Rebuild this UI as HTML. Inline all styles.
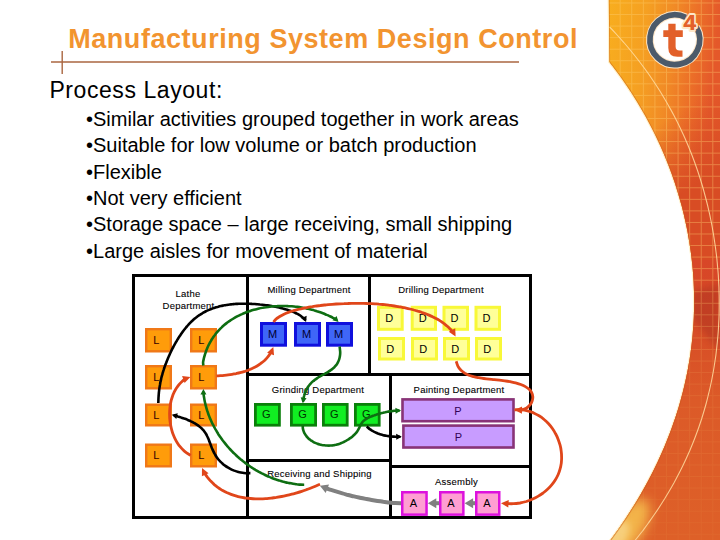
<!DOCTYPE html>
<html><head><meta charset="utf-8"><style>
html,body{margin:0;padding:0;background:#fff}
body{width:720px;height:540px;overflow:hidden;position:relative;font-family:"Liberation Sans",sans-serif}
svg{position:absolute;left:0;top:0}
</style></head><body>
<svg width="720" height="540" viewBox="0 0 720 540">
<defs>
<linearGradient id="og" x1="608" y1="0" x2="720" y2="12" gradientUnits="userSpaceOnUse">
<stop offset="0" stop-color="#f8ae1e"/><stop offset="0.35" stop-color="#f5a022"/><stop offset="0.6" stop-color="#f18a26"/><stop offset="0.8" stop-color="#ec7028"/><stop offset="1" stop-color="#e4582a"/>
</linearGradient>
<linearGradient id="og2" x1="650" y1="60" x2="720" y2="170" gradientUnits="userSpaceOnUse">
<stop offset="0" stop-color="#d84c24" stop-opacity="0"/><stop offset="0.45" stop-color="#d84c24" stop-opacity="0"/><stop offset="1" stop-color="#d84c24" stop-opacity="1"/>
</linearGradient>
<linearGradient id="og3" x1="0" y1="260" x2="0" y2="540" gradientUnits="userSpaceOnUse">
<stop offset="0" stop-color="#d84628"/><stop offset="0.2" stop-color="#d64a26"/><stop offset="0.5" stop-color="#dc5a28"/><stop offset="1" stop-color="#de6028"/>
</linearGradient>
<radialGradient id="yl" cx="612" cy="548" r="52" gradientUnits="userSpaceOnUse">
<stop offset="0" stop-color="#f8d070"/><stop offset="0.45" stop-color="#f4b848" stop-opacity="0.9"/><stop offset="1" stop-color="#eea038" stop-opacity="0"/>
</radialGradient>
<pattern id="grid" x="608.1" y="2.5" width="11.58" height="11.55" patternUnits="userSpaceOnUse">
<path d="M0,0.5 H11.58 M0.5,0 V11.55" stroke="#ffd070" stroke-opacity="0.4" stroke-width="1" fill="none"/>
</pattern>
<linearGradient id="gfade" x1="0" y1="0" x2="0" y2="540" gradientUnits="userSpaceOnUse">
<stop offset="0" stop-color="#fff"/><stop offset="0.5" stop-color="#fff"/><stop offset="0.7" stop-color="#fff" stop-opacity="0.3"/><stop offset="1" stop-color="#fff" stop-opacity="0.15"/>
</linearGradient>
<mask id="gmask"><rect x="600" y="0" width="120" height="540" fill="url(#gfade)"/></mask>
<filter id="bl3" x="-50%" y="-50%" width="200%" height="200%"><feGaussianBlur stdDeviation="3"/></filter>
<filter id="bl6" x="-50%" y="-50%" width="200%" height="200%"><feGaussianBlur stdDeviation="6"/></filter>
<clipPath id="shp"><path d="M608.8,-5 L608.8,-2 L609.3,62 C610.3,63.3 613.4,67.3 615.4,70.0 C617.4,72.7 619.4,75.3 621.3,78.0 C623.1,80.7 625.0,83.3 626.8,86.0 C628.6,88.7 630.4,91.3 632.1,94.0 C633.8,96.7 635.4,99.3 637.1,102.0 C638.7,104.7 640.3,107.3 641.8,110.0 C643.4,112.7 644.9,115.3 646.4,118.0 C647.8,120.7 649.2,123.3 650.6,126.0 C652.0,128.7 653.4,131.3 654.7,134.0 C656.0,136.7 657.3,139.3 658.5,142.0 C659.8,144.7 661.0,147.3 662.1,150.0 C663.3,152.7 664.4,155.3 665.5,158.0 C666.6,160.7 667.7,163.3 668.7,166.0 C669.7,168.7 670.7,171.3 671.7,174.0 C672.6,176.7 673.6,179.3 674.5,182.0 C675.4,184.7 676.2,187.3 677.0,190.0 C677.9,192.7 678.7,195.3 679.4,198.0 C680.2,200.7 680.9,203.3 681.7,206.0 C682.4,208.7 683.0,211.3 683.7,214.0 C684.3,216.7 684.9,219.3 685.5,222.0 C686.1,224.7 686.6,227.3 687.2,230.0 C687.7,232.7 688.2,235.3 688.6,238.0 C689.1,240.7 689.5,243.3 689.9,246.0 C690.3,248.7 690.7,251.3 691.1,254.0 C691.4,256.7 691.7,259.3 692.0,262.0 C692.3,264.7 692.6,267.3 692.8,270.0 C693.0,272.7 693.2,275.3 693.4,278.0 C693.6,280.7 693.7,283.3 693.8,286.0 C693.9,288.7 694.0,291.3 694.1,294.0 C694.1,296.7 694.1,299.3 694.1,302.0 C694.1,304.7 694.1,307.3 694.0,310.0 C694.0,312.7 693.9,315.3 693.8,318.0 C693.7,320.7 693.5,323.3 693.3,326.0 C693.1,328.7 692.9,331.3 692.7,334.0 C692.5,336.7 692.2,339.3 691.9,342.0 C691.6,344.7 691.3,347.3 690.9,350.0 C690.6,352.7 690.2,355.3 689.8,358.0 C689.4,360.7 688.9,363.3 688.4,366.0 C688.0,368.7 687.5,371.3 686.9,374.0 C686.4,376.7 685.8,379.3 685.2,382.0 C684.6,384.7 684.0,387.3 683.3,390.0 C682.7,392.7 682.0,395.3 681.2,398.0 C680.5,400.7 679.8,403.3 679.0,406.0 C678.2,408.7 677.4,411.3 676.5,414.0 C675.7,416.7 674.8,419.3 673.8,422.0 C672.9,424.7 672.0,427.3 671.0,430.0 C670.0,432.7 669.0,435.3 667.9,438.0 C666.9,440.7 665.8,443.3 664.7,446.0 C663.6,448.7 662.4,451.3 661.2,454.0 C660.0,456.7 658.8,459.3 657.6,462.0 C656.3,464.7 655.0,467.3 653.7,470.0 C652.4,472.7 651.0,475.3 649.6,478.0 C648.2,480.7 646.8,483.3 645.3,486.0 C643.8,488.7 642.3,491.3 640.8,494.0 C639.3,496.7 637.7,499.3 636.1,502.0 C634.5,504.7 632.8,507.3 631.1,510.0 C629.4,512.7 627.7,515.3 626.0,518.0 C624.2,520.7 622.4,523.3 620.6,526.0 C618.7,528.7 616.9,531.3 614.9,534.0 C613.0,536.7 610.4,540.2 609.1,542.0 C607.7,543.8 607.2,544.5 606.8,545.0 L725,545 L725,-5 Z"/></clipPath>
</defs>
<path d="M608.8,-5 L608.8,-2 L609.3,62 C610.3,63.3 613.4,67.3 615.4,70.0 C617.4,72.7 619.4,75.3 621.3,78.0 C623.1,80.7 625.0,83.3 626.8,86.0 C628.6,88.7 630.4,91.3 632.1,94.0 C633.8,96.7 635.4,99.3 637.1,102.0 C638.7,104.7 640.3,107.3 641.8,110.0 C643.4,112.7 644.9,115.3 646.4,118.0 C647.8,120.7 649.2,123.3 650.6,126.0 C652.0,128.7 653.4,131.3 654.7,134.0 C656.0,136.7 657.3,139.3 658.5,142.0 C659.8,144.7 661.0,147.3 662.1,150.0 C663.3,152.7 664.4,155.3 665.5,158.0 C666.6,160.7 667.7,163.3 668.7,166.0 C669.7,168.7 670.7,171.3 671.7,174.0 C672.6,176.7 673.6,179.3 674.5,182.0 C675.4,184.7 676.2,187.3 677.0,190.0 C677.9,192.7 678.7,195.3 679.4,198.0 C680.2,200.7 680.9,203.3 681.7,206.0 C682.4,208.7 683.0,211.3 683.7,214.0 C684.3,216.7 684.9,219.3 685.5,222.0 C686.1,224.7 686.6,227.3 687.2,230.0 C687.7,232.7 688.2,235.3 688.6,238.0 C689.1,240.7 689.5,243.3 689.9,246.0 C690.3,248.7 690.7,251.3 691.1,254.0 C691.4,256.7 691.7,259.3 692.0,262.0 C692.3,264.7 692.6,267.3 692.8,270.0 C693.0,272.7 693.2,275.3 693.4,278.0 C693.6,280.7 693.7,283.3 693.8,286.0 C693.9,288.7 694.0,291.3 694.1,294.0 C694.1,296.7 694.1,299.3 694.1,302.0 C694.1,304.7 694.1,307.3 694.0,310.0 C694.0,312.7 693.9,315.3 693.8,318.0 C693.7,320.7 693.5,323.3 693.3,326.0 C693.1,328.7 692.9,331.3 692.7,334.0 C692.5,336.7 692.2,339.3 691.9,342.0 C691.6,344.7 691.3,347.3 690.9,350.0 C690.6,352.7 690.2,355.3 689.8,358.0 C689.4,360.7 688.9,363.3 688.4,366.0 C688.0,368.7 687.5,371.3 686.9,374.0 C686.4,376.7 685.8,379.3 685.2,382.0 C684.6,384.7 684.0,387.3 683.3,390.0 C682.7,392.7 682.0,395.3 681.2,398.0 C680.5,400.7 679.8,403.3 679.0,406.0 C678.2,408.7 677.4,411.3 676.5,414.0 C675.7,416.7 674.8,419.3 673.8,422.0 C672.9,424.7 672.0,427.3 671.0,430.0 C670.0,432.7 669.0,435.3 667.9,438.0 C666.9,440.7 665.8,443.3 664.7,446.0 C663.6,448.7 662.4,451.3 661.2,454.0 C660.0,456.7 658.8,459.3 657.6,462.0 C656.3,464.7 655.0,467.3 653.7,470.0 C652.4,472.7 651.0,475.3 649.6,478.0 C648.2,480.7 646.8,483.3 645.3,486.0 C643.8,488.7 642.3,491.3 640.8,494.0 C639.3,496.7 637.7,499.3 636.1,502.0 C634.5,504.7 632.8,507.3 631.1,510.0 C629.4,512.7 627.7,515.3 626.0,518.0 C624.2,520.7 622.4,523.3 620.6,526.0 C618.7,528.7 616.9,531.3 614.9,534.0 C613.0,536.7 610.4,540.2 609.1,542.0 C607.7,543.8 607.2,544.5 606.8,545.0 L725,545 L725,-5 Z" fill="none" stroke="#fff2cc" stroke-width="2.4"/>
<g clip-path="url(#shp)">
<rect x="600" y="0" width="120" height="540" fill="url(#og)"/>
<rect x="600" y="0" width="120" height="260" fill="url(#og2)"/>
<rect x="600" y="260" width="120" height="280" fill="url(#og3)"/>
<ellipse cx="626" cy="530" rx="16" ry="36" transform="rotate(33 626 530)" fill="#f3b448" filter="url(#bl6)"/>
<ellipse cx="617" cy="537" rx="9" ry="18" transform="rotate(33 617 537)" fill="#f7cf7c" filter="url(#bl3)"/>
<path d="M692,291 L720,284 L720,352 L692,318 Z" fill="#a83024" opacity="0.45" filter="url(#bl3)"/>
<rect x="600" y="0" width="120" height="540" fill="url(#grid)" mask="url(#gmask)"/>
<path d="M608.8,-5 L608.8,-2 L609.3,62 C610.3,63.3 613.4,67.3 615.4,70.0 C617.4,72.7 619.4,75.3 621.3,78.0 C623.1,80.7 625.0,83.3 626.8,86.0 C628.6,88.7 630.4,91.3 632.1,94.0 C633.8,96.7 635.4,99.3 637.1,102.0 C638.7,104.7 640.3,107.3 641.8,110.0 C643.4,112.7 644.9,115.3 646.4,118.0 C647.8,120.7 649.2,123.3 650.6,126.0 C652.0,128.7 653.4,131.3 654.7,134.0 C656.0,136.7 657.3,139.3 658.5,142.0 C659.8,144.7 661.0,147.3 662.1,150.0 C663.3,152.7 664.4,155.3 665.5,158.0 C666.6,160.7 667.7,163.3 668.7,166.0 C669.7,168.7 670.7,171.3 671.7,174.0 C672.6,176.7 673.6,179.3 674.5,182.0 C675.4,184.7 676.2,187.3 677.0,190.0 C677.9,192.7 678.7,195.3 679.4,198.0 C680.2,200.7 680.9,203.3 681.7,206.0 C682.4,208.7 683.0,211.3 683.7,214.0 C684.3,216.7 684.9,219.3 685.5,222.0 C686.1,224.7 686.6,227.3 687.2,230.0 C687.7,232.7 688.2,235.3 688.6,238.0 C689.1,240.7 689.5,243.3 689.9,246.0 C690.3,248.7 690.7,251.3 691.1,254.0 C691.4,256.7 691.7,259.3 692.0,262.0 C692.3,264.7 692.6,267.3 692.8,270.0 C693.0,272.7 693.2,275.3 693.4,278.0 C693.6,280.7 693.7,283.3 693.8,286.0 C693.9,288.7 694.0,291.3 694.1,294.0 C694.1,296.7 694.1,299.3 694.1,302.0 C694.1,304.7 694.1,307.3 694.0,310.0 C694.0,312.7 693.9,315.3 693.8,318.0 C693.7,320.7 693.5,323.3 693.3,326.0 C693.1,328.7 692.9,331.3 692.7,334.0 C692.5,336.7 692.2,339.3 691.9,342.0 C691.6,344.7 691.3,347.3 690.9,350.0 C690.6,352.7 690.2,355.3 689.8,358.0 C689.4,360.7 688.9,363.3 688.4,366.0 C688.0,368.7 687.5,371.3 686.9,374.0 C686.4,376.7 685.8,379.3 685.2,382.0 C684.6,384.7 684.0,387.3 683.3,390.0 C682.7,392.7 682.0,395.3 681.2,398.0 C680.5,400.7 679.8,403.3 679.0,406.0 C678.2,408.7 677.4,411.3 676.5,414.0 C675.7,416.7 674.8,419.3 673.8,422.0 C672.9,424.7 672.0,427.3 671.0,430.0 C670.0,432.7 669.0,435.3 667.9,438.0 C666.9,440.7 665.8,443.3 664.7,446.0 C663.6,448.7 662.4,451.3 661.2,454.0 C660.0,456.7 658.8,459.3 657.6,462.0 C656.3,464.7 655.0,467.3 653.7,470.0 C652.4,472.7 651.0,475.3 649.6,478.0 C648.2,480.7 646.8,483.3 645.3,486.0 C643.8,488.7 642.3,491.3 640.8,494.0 C639.3,496.7 637.7,499.3 636.1,502.0 C634.5,504.7 632.8,507.3 631.1,510.0 C629.4,512.7 627.7,515.3 626.0,518.0 C624.2,520.7 622.4,523.3 620.6,526.0 C618.7,528.7 616.9,531.3 614.9,534.0 C613.0,536.7 610.4,540.2 609.1,542.0 C607.7,543.8 607.2,544.5 606.8,545.0 L725,545 L725,-5 Z" fill="none" stroke="#c85a18" stroke-opacity="0.5" stroke-width="1.6"/>
<path d="M609.6,27.0 C610.9,28.3 614.7,32.3 617.1,35.0 C619.6,37.7 621.9,40.3 624.3,43.0 C626.6,45.7 628.8,48.3 631.0,51.0 C633.2,53.7 635.3,56.3 637.4,59.0 C639.5,61.7 641.5,64.3 643.5,67.0 C645.5,69.7 647.4,72.3 649.3,75.0 C651.1,77.7 652.9,80.3 654.7,83.0 C656.5,85.7 658.2,88.3 659.9,91.0 C661.5,93.7 663.1,96.3 664.7,99.0 C666.3,101.7 667.8,104.3 669.3,107.0 C670.8,109.7 672.3,112.3 673.7,115.0 C675.1,117.7 676.4,120.3 677.8,123.0 C679.1,125.7 680.4,128.3 681.6,131.0 C682.9,133.7 684.1,136.3 685.3,139.0 C686.4,141.7 687.6,144.3 688.7,147.0 C689.8,149.7 690.8,152.3 691.9,155.0 C692.9,157.7 693.9,160.3 694.9,163.0 C695.8,165.7 696.8,168.3 697.7,171.0 C698.6,173.7 699.4,176.3 700.3,179.0 C701.1,181.7 701.9,184.3 702.7,187.0 C703.5,189.7 704.2,192.3 704.9,195.0 C705.6,197.7 706.3,200.3 707.0,203.0 C707.7,205.7 708.3,208.3 708.9,211.0 C709.5,213.7 710.1,216.3 710.6,219.0 C711.2,221.7 711.7,224.3 712.2,227.0 C712.7,229.7 713.1,232.3 713.6,235.0 C714.0,237.7 714.4,240.3 714.8,243.0 C715.2,245.7 715.6,248.3 715.9,251.0 C716.3,253.7 716.6,256.3 716.9,259.0 C717.1,261.7 717.4,264.3 717.6,267.0 C717.9,269.7 718.1,272.3 718.3,275.0 C718.4,277.7 718.6,280.3 718.7,283.0 C718.9,285.7 719.0,288.3 719.0,291.0 C719.1,293.7 719.2,296.3 719.2,299.0 C719.2,301.7 719.2,304.3 719.2,307.0 C719.2,309.7 719.1,312.3 719.1,315.0 C719.0,317.7 718.9,320.3 718.7,323.0 C718.6,325.7 718.5,328.3 718.3,331.0 C718.1,333.7 717.9,336.3 717.6,339.0 C717.4,341.7 717.1,344.3 716.8,347.0 C716.5,349.7 716.2,352.3 715.9,355.0 C715.5,357.7 715.1,360.3 714.7,363.0 C714.3,365.7 713.9,368.3 713.4,371.0 C712.9,373.7 712.4,376.3 711.9,379.0 C711.4,381.7 710.8,384.3 710.2,387.0 C709.6,389.7 709.0,392.3 708.3,395.0 C707.7,397.7 707.0,400.3 706.3,403.0 C705.6,405.7 704.8,408.3 704.0,411.0 C703.2,413.7 702.4,416.3 701.6,419.0 C700.7,421.7 699.8,424.3 698.9,427.0 C698.0,429.7 697.0,432.3 696.0,435.0 C695.0,437.7 694.0,440.3 692.9,443.0 C691.8,445.7 690.7,448.3 689.6,451.0 C688.4,453.7 687.2,456.3 686.0,459.0 C684.8,461.7 683.5,464.3 682.2,467.0 C680.9,469.7 679.5,472.3 678.1,475.0 C676.8,477.7 675.3,480.3 673.9,483.0 C672.4,485.7 670.9,488.3 669.3,491.0 C667.7,493.7 666.1,496.3 664.5,499.0 C662.8,501.7 661.1,504.3 659.4,507.0 C657.7,509.7 655.9,512.3 654.0,515.0 C652.2,517.7 650.3,520.3 648.4,523.0 C646.5,525.7 644.5,528.3 642.5,531.0 C640.4,533.7 638.1,536.7 636.2,539.0 C634.4,541.3 632.2,544.0 631.4,545.0" fill="none" stroke="#ffdca0" stroke-width="1.1" stroke-opacity="0.85"/>
</g>
<circle cx="674.8" cy="39.7" r="23" fill="#fff"/>
<path d="M696.36,27.25 A24.9,24.9 0 1 1 685.72,17.32" fill="none" stroke="#fde6c8" stroke-width="7.7"/>
<path d="M696.36,27.25 A24.9,24.9 0 1 1 685.72,17.32" fill="none" stroke="#4c5a6a" stroke-width="5.7"/>
<text x="683.6" y="29.6" font-family="Liberation Sans" font-weight="bold" font-size="22.5" fill="#e4602a" stroke="#fde6c8" stroke-width="4" stroke-linejoin="round" paint-order="stroke">4</text>
<text x="683.6" y="29.6" font-family="Liberation Sans" font-weight="bold" font-size="22.5" fill="#e4602a" stroke="#e4602a" stroke-width="0.2" stroke-linejoin="round">4</text>
<path d="M668.3,23.7 H675.6 V30.2 H682.8 V37.1 H675.6 V46.5 Q675.6,50.6 679.5,50.6 H682.5 V56.7 H677.5 Q668.3,56.7 668.3,48 V37.1 H663.3 V30.2 H668.3 Z" fill="#e2602a"/>
<line x1="51" y1="62" x2="519" y2="62" stroke="#aa6640" stroke-width="1.4"/>
<line x1="62.2" y1="51" x2="62.2" y2="74" stroke="#aa6640" stroke-width="1.4"/>
<text x="68.2" y="47.6" font-family="Liberation Sans" font-weight="bold" font-size="27" fill="#f29430" letter-spacing="0.55">Manufacturing System Design Control</text>
<text x="49.4" y="97.8" font-family="Liberation Sans" font-size="23" fill="#000" letter-spacing="0.57">Process Layout:</text>
<g font-family="Liberation Sans" font-size="20" fill="#000">
<text x="86" y="125.9">•Similar activities grouped together in work areas</text>
<text x="86" y="152.2">•Suitable for low volume or batch production</text>
<text x="86" y="178.6">•Flexible</text>
<text x="86" y="204.9">•Not very efficient</text>
<text x="86" y="231.3">•Storage space – large receiving, small shipping</text>
<text x="86" y="257.6">•Large aisles for movement of material</text>
</g>
<g stroke="#000" stroke-width="3" fill="none">
<rect x="133.5" y="275.5" width="397" height="242"/>
<line x1="247.5" y1="275.5" x2="247.5" y2="517.5"/>
<line x1="369.5" y1="275.5" x2="369.5" y2="374.5"/>
<line x1="247.5" y1="374.5" x2="530.5" y2="374.5"/>
<line x1="390.5" y1="374.5" x2="390.5" y2="517.5"/>
<line x1="247.5" y1="460.5" x2="390.5" y2="460.5"/>
<line x1="390.5" y1="466.5" x2="530.5" y2="466.5"/>
</g>
<g font-family="Liberation Sans" font-size="9.5" letter-spacing="0.22" fill="#000" stroke="#000" stroke-width="0.1" text-anchor="middle">
<text x="188" y="296.8">Lathe</text>
<text x="188.5" y="308.9">Department</text>
<text x="309" y="293">Milling Department</text>
<text x="441" y="292.5">Drilling Department</text>
<text x="318" y="392.7">Grinding Department</text>
<text x="459" y="392.7">Painting Department</text>
<text x="319.5" y="476.7">Receiving and Shipping</text>
<text x="456.5" y="484.7">Assembly</text>
</g>
<g font-family="Liberation Sans" font-size="11" text-anchor="middle">
<rect x="146.20" y="329.20" width="24.60" height="22.10" fill="#ff9c0a" stroke="#f07818" stroke-width="2.4"/><text x="156.30" y="344.21" fill="#330000">L</text>
<rect x="191.20" y="329.20" width="24.60" height="22.10" fill="#ff9c0a" stroke="#f07818" stroke-width="2.4"/><text x="201.30" y="344.21" fill="#330000">L</text>
<rect x="146.20" y="366.20" width="24.60" height="22.10" fill="#ff9c0a" stroke="#f07818" stroke-width="2.4"/><text x="156.30" y="381.21" fill="#330000">L</text>
<rect x="191.20" y="366.20" width="24.60" height="22.10" fill="#ff9c0a" stroke="#f07818" stroke-width="2.4"/><text x="201.30" y="381.21" fill="#330000">L</text>
<rect x="146.20" y="404.70" width="24.60" height="20.60" fill="#ff9c0a" stroke="#f07818" stroke-width="2.4"/><text x="156.30" y="418.96" fill="#330000">L</text>
<rect x="191.20" y="404.70" width="24.60" height="20.60" fill="#ff9c0a" stroke="#f07818" stroke-width="2.4"/><text x="201.30" y="418.96" fill="#330000">L</text>
<rect x="146.20" y="444.70" width="24.60" height="21.60" fill="#ff9c0a" stroke="#f07818" stroke-width="2.4"/><text x="156.30" y="459.46" fill="#330000">L</text>
<rect x="191.20" y="444.70" width="24.60" height="21.60" fill="#ff9c0a" stroke="#f07818" stroke-width="2.4"/><text x="201.30" y="459.46" fill="#330000">L</text>
<rect x="261.50" y="323.50" width="24.00" height="21.70" fill="#3f66f8" stroke="#1010dd" stroke-width="3"/><text x="272.60" y="338.31" fill="#000033">M</text>
<rect x="295.50" y="323.50" width="24.00" height="21.70" fill="#3f66f8" stroke="#1010dd" stroke-width="3"/><text x="306.60" y="338.31" fill="#000033">M</text>
<rect x="327.50" y="323.50" width="24.00" height="21.70" fill="#3f66f8" stroke="#1010dd" stroke-width="3"/><text x="338.60" y="338.31" fill="#000033">M</text>
<rect x="378.50" y="307.30" width="23.70" height="22.00" fill="#ffff99" stroke="#f8f838" stroke-width="3"/><text x="389.15" y="322.26" fill="#000">D</text>
<rect x="412.20" y="307.30" width="23.30" height="22.00" fill="#ffff99" stroke="#f8f838" stroke-width="3"/><text x="422.65" y="322.26" fill="#000">D</text>
<rect x="444.00" y="307.30" width="23.50" height="22.00" fill="#ffff99" stroke="#f8f838" stroke-width="3"/><text x="454.55" y="322.26" fill="#000">D</text>
<rect x="476.00" y="307.30" width="23.50" height="22.00" fill="#ffff99" stroke="#f8f838" stroke-width="3"/><text x="486.55" y="322.26" fill="#000">D</text>
<rect x="379.50" y="338.50" width="24.00" height="20.50" fill="#ffff99" stroke="#f8f838" stroke-width="3"/><text x="390.30" y="352.71" fill="#000">D</text>
<rect x="412.50" y="338.50" width="24.00" height="20.50" fill="#ffff99" stroke="#f8f838" stroke-width="3"/><text x="423.30" y="352.71" fill="#000">D</text>
<rect x="444.50" y="338.50" width="24.00" height="20.50" fill="#ffff99" stroke="#f8f838" stroke-width="3"/><text x="455.30" y="352.71" fill="#000">D</text>
<rect x="476.50" y="338.50" width="24.00" height="20.50" fill="#ffff99" stroke="#f8f838" stroke-width="3"/><text x="487.30" y="352.71" fill="#000">D</text>
<rect x="255.40" y="404.40" width="24.00" height="20.80" fill="#11ee22" stroke="#0a800a" stroke-width="2.8"/><text x="266.40" y="418.00" fill="#003300">G</text>
<rect x="291.40" y="404.40" width="24.20" height="20.80" fill="#11ee22" stroke="#0a800a" stroke-width="2.8"/><text x="302.50" y="418.00" fill="#003300">G</text>
<rect x="323.40" y="404.40" width="23.80" height="20.80" fill="#11ee22" stroke="#0a800a" stroke-width="2.8"/><text x="334.30" y="418.00" fill="#003300">G</text>
<rect x="355.40" y="404.40" width="23.80" height="20.80" fill="#11ee22" stroke="#0a800a" stroke-width="2.8"/><text x="366.30" y="418.00" fill="#003300">G</text>
<rect x="402.50" y="399.40" width="111.00" height="21.80" fill="#c89cff" stroke="#883377" stroke-width="2.6"/><text x="458.00" y="414.98" fill="#330055">P</text>
<rect x="403.40" y="425.60" width="110.10" height="21.90" fill="#c89cff" stroke="#883377" stroke-width="2.6"/><text x="458.45" y="441.23" fill="#330055">P</text>
<rect x="402.25" y="492.25" width="24.30" height="22.40" fill="#ff9ed2" stroke="#dd11dd" stroke-width="2.5"/><text x="413.50" y="507.41" fill="#000">A</text>
<rect x="440.25" y="492.25" width="23.10" height="22.40" fill="#ff9ed2" stroke="#dd11dd" stroke-width="2.5"/><text x="450.90" y="507.41" fill="#000">A</text>
<rect x="476.25" y="492.25" width="23.00" height="22.40" fill="#ff9ed2" stroke="#dd11dd" stroke-width="2.5"/><text x="486.85" y="507.41" fill="#000">A</text>
</g>
<g>
<path d="M158.3,403.0 C158.3,402.6 158.4,401.3 158.4,400.4 C158.4,399.5 158.5,398.6 158.5,397.7 C158.6,396.8 158.6,395.9 158.7,395.0 C158.8,394.1 158.8,393.3 158.9,392.4 C159.0,391.5 159.1,390.7 159.2,389.8 C159.3,388.9 159.5,388.1 159.6,387.2 C159.7,386.4 159.8,385.6 160.0,384.7 C160.1,383.9 160.3,383.0 160.4,382.2 C160.6,381.4 160.8,380.6 161.0,379.8 C161.1,378.9 161.3,378.1 161.5,377.3 C161.7,376.5 161.9,375.7 162.2,374.9 C162.4,374.1 162.6,373.3 162.8,372.5 C163.1,371.7 163.3,370.9 163.6,370.1 C163.8,369.3 164.1,368.5 164.4,367.7 C164.6,366.9 164.9,366.1 165.2,365.3 C165.5,364.5 165.8,363.7 166.1,363.0 C166.4,362.2 166.7,361.4 167.0,360.6 C167.3,359.8 167.7,359.0 168.0,358.2 C168.3,357.4 168.7,356.6 169.0,355.9 C169.4,355.1 169.7,354.3 170.1,353.5 C170.5,352.7 170.9,351.9 171.2,351.1 C171.6,350.3 172.0,349.5 172.4,348.7 C172.8,348.0 173.2,347.2 173.6,346.4 C174.1,345.6 174.5,344.8 174.9,344.0 C175.3,343.3 175.8,342.5 176.2,341.7 C176.7,340.9 177.1,340.2 177.6,339.4 C178.1,338.6 178.5,337.9 179.0,337.1 C179.5,336.4 180.0,335.6 180.5,334.9 C181.0,334.2 181.5,333.4 182.0,332.7 C182.5,332.0 183.1,331.3 183.6,330.6 C184.1,329.9 184.7,329.2 185.2,328.5 C185.8,327.8 186.3,327.1 186.9,326.5 C187.5,325.8 188.0,325.2 188.6,324.5 C189.2,323.9 189.8,323.3 190.4,322.6 C191.0,322.0 191.6,321.4 192.3,320.9 C192.9,320.3 193.5,319.7 194.2,319.1 C194.8,318.6 195.4,318.0 196.1,317.5 C196.8,317.0 197.4,316.5 198.1,316.0 C198.8,315.5 199.5,315.0 200.2,314.6 C200.9,314.1 201.6,313.7 202.3,313.3 C203.0,312.8 203.7,312.4 204.5,312.0 C205.2,311.6 205.9,311.3 206.7,310.9 C207.4,310.6 208.2,310.2 208.9,309.9 C209.7,309.6 210.5,309.2 211.3,309.0 C212.0,308.7 212.8,308.4 213.6,308.1 C214.4,307.8 215.2,307.6 216.0,307.3 C216.8,307.1 217.6,306.9 218.4,306.7 C219.2,306.4 220.0,306.2 220.9,306.0 C221.7,305.9 222.5,305.7 223.4,305.5 C224.2,305.4 225.0,305.2 225.9,305.1 C226.7,304.9 227.6,304.8 228.4,304.7 C229.3,304.6 230.1,304.5 231.0,304.4 C231.8,304.3 232.7,304.2 233.5,304.1 C234.4,304.0 235.3,304.0 236.1,303.9 C237.0,303.9 237.9,303.8 238.8,303.8 C239.6,303.7 240.5,303.7 241.4,303.7 C242.3,303.7 243.1,303.7 244.0,303.7 C244.9,303.7 245.8,303.7 246.7,303.7 C247.5,303.7 248.4,303.7 249.3,303.8 C250.2,303.8 251.1,303.8 251.9,303.9 C252.8,303.9 253.7,304.0 254.6,304.0 C255.5,304.1 256.3,304.2 257.2,304.2 C258.1,304.3 259.0,304.4 259.9,304.5 C260.7,304.5 261.6,304.6 262.5,304.7 C263.4,304.8 264.2,304.9 265.1,305.1 C266.0,305.2 266.8,305.3 267.7,305.4 C268.6,305.5 269.4,305.7 270.3,305.8 C271.1,306.0 272.0,306.1 272.9,306.3 C273.7,306.4 274.6,306.6 275.4,306.8 C276.3,306.9 277.1,307.1 277.9,307.3 C278.8,307.5 279.6,307.7 280.5,307.9 C281.3,308.1 282.1,308.3 282.9,308.5 C283.8,308.7 284.6,309.0 285.4,309.2 C286.2,309.4 287.0,309.7 287.8,309.9 C288.6,310.2 289.4,310.5 290.2,310.7 C291.0,311.0 291.8,311.3 292.6,311.6 C293.3,311.9 294.1,312.3 294.8,312.6 C295.6,313.0 296.3,313.3 297.0,313.7 C297.8,314.1 298.5,314.5 299.2,314.9 C299.9,315.3 300.6,315.8 301.2,316.3 C301.9,316.7 302.5,317.2 303.1,317.8 C303.8,318.3 304.7,319.3 305.0,319.4 C305.2,319.5 304.6,318.6 304.6,318.5" fill="none" stroke="#000" stroke-width="2.6" stroke-linecap="butt" stroke-linejoin="round"/><path d="M306.10,322.00 L301.16,318.14 L306.67,315.76 Z" fill="#000"/>
<path d="M203.4,365.5 C203.3,365.0 203.0,363.4 203.1,362.2 C203.2,361.1 203.6,359.6 203.9,358.3 C204.2,357.1 204.6,355.8 204.9,354.6 C205.3,353.4 205.7,352.2 206.1,351.0 C206.6,349.8 207.0,348.7 207.5,347.5 C208.0,346.4 208.5,345.3 209.1,344.2 C209.6,343.2 210.2,342.1 210.8,341.1 C211.4,340.0 212.0,339.0 212.7,338.0 C213.3,337.1 214.0,336.1 214.7,335.2 C215.4,334.2 216.1,333.3 216.9,332.4 C217.6,331.6 218.4,330.7 219.2,329.8 C220.0,329.0 220.8,328.2 221.7,327.4 C222.5,326.6 223.4,325.8 224.2,325.1 C225.1,324.3 226.0,323.6 226.9,322.9 C227.9,322.2 228.8,321.5 229.8,320.9 C230.7,320.2 231.7,319.6 232.7,319.0 C233.7,318.4 234.7,317.8 235.7,317.2 C236.7,316.6 237.7,316.1 238.8,315.6 C239.8,315.0 240.9,314.5 242.0,314.1 C243.1,313.6 244.2,313.1 245.3,312.7 C246.4,312.3 247.5,311.8 248.6,311.5 C249.7,311.1 250.9,310.7 252.0,310.3 C253.2,310.0 254.3,309.7 255.5,309.4 C256.7,309.1 257.8,308.8 259.0,308.5 C260.2,308.2 261.4,308.0 262.6,307.8 C263.8,307.5 265.0,307.3 266.2,307.2 C267.4,307.0 268.6,306.8 269.8,306.7 C271.0,306.5 272.3,306.4 273.5,306.3 C274.7,306.2 275.9,306.1 277.2,306.1 C278.4,306.0 279.6,306.0 280.9,306.0 C282.1,305.9 283.3,305.9 284.6,306.0 C285.8,306.0 287.0,306.0 288.2,306.1 C289.5,306.1 290.7,306.2 291.9,306.3 C293.2,306.4 294.4,306.5 295.6,306.7 C296.8,306.8 298.0,307.0 299.2,307.1 C300.5,307.3 301.7,307.5 302.9,307.7 C304.1,307.9 305.3,308.2 306.4,308.4 C307.6,308.7 308.8,308.9 310.0,309.2 C311.2,309.5 312.3,309.8 313.5,310.1 C314.6,310.5 315.8,310.8 316.9,311.2 C318.0,311.5 319.2,311.9 320.3,312.3 C321.4,312.7 322.5,313.1 323.6,313.5 C324.7,314.0 325.7,314.4 326.8,314.9 C327.9,315.3 328.9,315.8 329.9,316.3 C331.0,316.8 332.0,317.3 333.0,317.9 C334.0,318.4 335.5,319.3 336.0,319.5 C336.4,319.8 335.8,319.4 335.7,319.3" fill="none" stroke="#0e6e12" stroke-width="2.6" stroke-linecap="butt" stroke-linejoin="round"/><path d="M338.50,322.00 L332.46,320.33 L336.64,316.02 Z" fill="#0e6e12"/>
<path d="M216.5,375.9 C217.1,375.9 219.0,375.8 220.3,375.7 C221.6,375.6 222.9,375.5 224.2,375.3 C225.5,375.2 226.8,375.1 228.1,374.9 C229.4,374.7 230.8,374.5 232.1,374.3 C233.4,374.1 234.8,373.8 236.1,373.6 C237.4,373.3 238.8,373.0 240.1,372.6 C241.4,372.3 242.7,372.0 244.0,371.6 C245.3,371.2 246.6,370.7 247.9,370.3 C249.1,369.8 250.4,369.3 251.6,368.7 C252.8,368.2 254.0,367.6 255.2,367.0 C256.4,366.4 257.5,365.7 258.6,365.0 C259.7,364.3 260.8,363.5 261.8,362.7 C262.8,362.0 263.8,361.1 264.8,360.2 C265.7,359.3 266.6,358.4 267.4,357.4 C268.3,356.4 269.1,355.3 269.8,354.2 C270.5,353.1 271.6,351.2 271.8,350.8 C272.1,350.4 271.5,351.7 271.4,351.9" fill="none" stroke="#e0461a" stroke-width="2.8" stroke-linecap="butt" stroke-linejoin="round"/><path d="M273.30,347.00 L274.03,355.33 L267.14,352.65 Z" fill="#e0461a"/>
<path d="M273.5,322.0 C273.9,321.5 275.2,319.9 276.1,319.0 C277.1,318.1 278.2,317.5 279.3,316.8 C280.4,316.1 281.5,315.5 282.6,314.9 C283.8,314.3 284.9,313.7 286.1,313.2 C287.3,312.7 288.5,312.3 289.7,311.9 C290.9,311.4 292.1,311.1 293.4,310.7 C294.6,310.3 295.9,310.0 297.1,309.7 C298.4,309.3 299.7,309.0 300.9,308.8 C302.2,308.5 303.5,308.2 304.8,307.9 C306.1,307.7 307.4,307.4 308.7,307.2 C309.9,307.0 311.2,306.8 312.5,306.6 C313.8,306.3 315.1,306.2 316.5,306.0 C317.8,305.8 319.1,305.6 320.4,305.5 C321.7,305.3 323.0,305.1 324.3,305.0 C325.6,304.9 326.9,304.7 328.2,304.6 C329.6,304.5 330.9,304.4 332.2,304.3 C333.5,304.2 334.8,304.1 336.1,304.0 C337.4,303.9 338.8,303.8 340.1,303.8 C341.4,303.7 342.7,303.6 344.0,303.6 C345.3,303.5 346.6,303.5 347.9,303.5 C349.2,303.4 350.5,303.4 351.8,303.4 C353.1,303.3 354.4,303.3 355.7,303.3 C357.0,303.3 358.3,303.3 359.6,303.3 C360.9,303.3 362.2,303.3 363.5,303.4 C364.8,303.4 366.1,303.4 367.3,303.5 C368.6,303.5 369.9,303.6 371.2,303.6 C372.5,303.7 373.8,303.8 375.1,303.9 C376.4,304.0 377.7,304.0 378.9,304.2 C380.2,304.3 381.5,304.4 382.8,304.5 C384.1,304.6 385.4,304.8 386.7,304.9 C388.0,305.1 389.3,305.2 390.6,305.4 C391.8,305.6 393.1,305.8 394.4,306.0 C395.7,306.2 397.0,306.4 398.3,306.6 C399.6,306.8 400.9,307.1 402.2,307.3 C403.5,307.6 404.8,307.8 406.1,308.1 C407.4,308.4 408.7,308.7 410.0,309.0 C411.3,309.3 412.6,309.6 413.9,310.0 C415.2,310.3 416.5,310.7 417.8,311.1 C419.1,311.4 420.3,311.8 421.6,312.3 C422.9,312.7 424.1,313.1 425.3,313.6 C426.6,314.1 427.8,314.6 429.0,315.1 C430.2,315.6 431.4,316.1 432.6,316.7 C433.8,317.3 434.9,317.8 436.1,318.5 C437.2,319.1 438.3,319.7 439.4,320.4 C440.5,321.1 441.6,321.8 442.6,322.5 C443.6,323.3 444.6,324.0 445.6,324.8 C446.6,325.6 447.6,326.5 448.5,327.3 C449.4,328.2 450.3,329.1 451.2,330.0 C452.0,331.0 453.3,332.7 453.7,333.0 C454.0,333.3 453.2,332.1 453.1,331.9" fill="none" stroke="#e0461a" stroke-width="2.8" stroke-linecap="butt" stroke-linejoin="round"/><path d="M455.60,336.50 L448.74,331.72 L455.22,328.15 Z" fill="#e0461a"/>
<path d="M339.6,346.5 C339.7,346.9 339.8,348.2 339.9,349.1 C340.0,350.0 340.1,351.0 340.2,351.9 C340.2,352.8 340.2,353.7 340.1,354.6 C340.0,355.4 339.9,356.3 339.7,357.1 C339.6,357.9 339.4,358.7 339.1,359.5 C338.9,360.3 338.6,361.0 338.2,361.7 C337.9,362.4 337.5,363.1 337.1,363.8 C336.7,364.5 336.2,365.1 335.7,365.7 C335.2,366.3 334.7,366.9 334.1,367.5 C333.5,368.0 332.9,368.5 332.3,369.0 C331.7,369.5 331.0,370.0 330.3,370.5 C329.6,370.9 328.9,371.4 328.2,371.8 C327.5,372.2 326.8,372.7 326.0,373.1 C325.3,373.5 324.6,373.9 323.8,374.3 C323.1,374.7 322.3,375.1 321.6,375.5 C320.9,376.0 320.1,376.4 319.4,376.8 C318.7,377.3 318.0,377.7 317.3,378.1 C316.6,378.6 315.9,379.1 315.2,379.6 C314.6,380.1 313.9,380.6 313.3,381.1 C312.7,381.6 312.1,382.1 311.5,382.7 C310.9,383.3 310.4,383.9 309.8,384.5 C309.3,385.1 308.8,385.7 308.4,386.4 C307.9,387.0 307.5,387.7 307.1,388.5 C306.7,389.2 306.3,389.9 305.9,390.7 C305.6,391.4 305.3,392.2 305.0,393.0 C304.7,393.8 304.4,394.6 304.2,395.5 C304.0,396.3 303.8,397.1 303.6,398.0 C303.4,398.9 303.2,400.4 303.2,400.7 C303.1,400.9 303.3,399.6 303.4,399.4" fill="none" stroke="#0e6e12" stroke-width="2.6" stroke-linecap="butt" stroke-linejoin="round"/><path d="M302.80,403.20 L300.66,397.31 L306.59,398.21 Z" fill="#0e6e12"/>
<path d="M302.8,425.6 C302.8,426.0 302.7,427.2 302.8,428.0 C302.9,428.8 303.1,429.5 303.3,430.3 C303.6,431.0 303.8,431.7 304.1,432.4 C304.4,433.1 304.8,433.7 305.2,434.4 C305.5,435.0 306.0,435.6 306.4,436.2 C306.9,436.8 307.3,437.3 307.9,437.8 C308.4,438.4 308.9,438.9 309.5,439.3 C310.1,439.8 310.7,440.2 311.3,440.7 C311.9,441.1 312.6,441.5 313.2,441.8 C313.9,442.2 314.6,442.6 315.3,442.9 C316.0,443.2 316.7,443.5 317.4,443.7 C318.2,444.0 318.9,444.2 319.7,444.4 C320.4,444.6 321.2,444.8 322.0,445.0 C322.7,445.1 323.5,445.2 324.3,445.3 C325.1,445.4 325.9,445.5 326.7,445.5 C327.4,445.6 328.2,445.6 329.0,445.6 C329.8,445.6 330.6,445.5 331.3,445.5 C332.1,445.4 332.9,445.3 333.6,445.2 C334.4,445.1 335.1,444.9 335.9,444.8 C336.6,444.6 337.4,444.4 338.1,444.2 C338.8,444.0 339.5,443.7 340.3,443.5 C341.0,443.2 341.7,442.9 342.4,442.6 C343.1,442.3 343.8,442.0 344.4,441.6 C345.1,441.3 345.8,440.9 346.4,440.6 C347.1,440.2 347.7,439.8 348.4,439.4 C349.0,439.0 349.7,438.6 350.3,438.1 C350.9,437.7 351.5,437.2 352.1,436.8 C352.7,436.3 353.2,435.8 353.8,435.3 C354.3,434.8 354.9,434.3 355.4,433.7 C355.9,433.2 356.4,432.6 356.8,432.0 C357.2,431.4 357.7,430.8 358.0,430.2 C358.4,429.5 358.8,428.8 359.1,428.2 C359.4,427.5 359.7,426.8 360.1,426.1 C360.4,425.5 360.7,424.8 361.1,424.1 C361.5,423.5 361.9,422.9 362.3,422.3 C362.8,421.7 363.3,421.2 363.8,420.7 C364.4,420.2 365.0,419.8 365.6,419.3 C366.2,418.9 366.9,418.5 367.6,418.1 C368.3,417.8 369.0,417.4 369.7,417.1 C370.4,416.8 371.2,416.5 371.9,416.2 C372.7,415.9 373.4,415.7 374.2,415.4 C374.9,415.1 375.7,414.9 376.4,414.6 C377.1,414.4 377.9,414.2 378.6,414.0 C379.3,413.7 380.1,413.5 380.8,413.3 C381.5,413.1 382.3,412.9 383.0,412.8 C383.7,412.6 384.4,412.4 385.2,412.3 C385.9,412.1 386.6,411.9 387.4,411.8 C388.1,411.7 388.8,411.5 389.6,411.4 C390.3,411.3 391.1,411.2 391.8,411.1 C392.6,411.0 393.3,410.9 394.1,410.8 C394.8,410.8 395.6,410.7 396.3,410.6 C397.1,410.6 398.5,410.5 398.7,410.5 C398.8,410.5 397.4,410.6 397.2,410.6" fill="none" stroke="#0e6e12" stroke-width="2.6" stroke-linecap="butt" stroke-linejoin="round"/><path d="M401.00,410.40 L395.64,413.64 L395.37,407.64 Z" fill="#0e6e12"/>
<path d="M366.7,426.5 C367.0,426.7 367.8,427.5 368.4,428.0 C368.9,428.5 369.5,428.9 370.1,429.3 C370.7,429.8 371.3,430.2 372.0,430.6 C372.6,430.9 373.2,431.3 373.9,431.7 C374.5,432.0 375.2,432.3 375.8,432.6 C376.5,432.9 377.2,433.2 377.9,433.5 C378.5,433.7 379.2,434.0 379.9,434.2 C380.6,434.4 381.3,434.6 382.0,434.8 C382.7,435.0 383.4,435.2 384.1,435.4 C384.9,435.5 385.6,435.7 386.3,435.8 C387.0,435.9 387.8,436.0 388.5,436.1 C389.2,436.2 390.0,436.3 390.7,436.4 C391.4,436.5 392.2,436.5 392.9,436.6 C393.6,436.6 394.4,436.7 395.1,436.7 C395.9,436.7 396.6,436.7 397.3,436.7 C398.1,436.8 399.4,436.7 399.5,436.7 C399.6,436.7 398.1,436.8 397.9,436.8" fill="none" stroke="#000" stroke-width="2.6" stroke-linecap="butt" stroke-linejoin="round"/><path d="M401.70,436.70 L396.26,439.80 L396.15,433.80 Z" fill="#000"/>
<path d="M456.2,361.2 C456.5,362.1 457.2,364.8 458.0,366.3 C458.8,367.8 459.9,369.0 461.0,370.2 C462.1,371.3 463.4,372.2 464.7,373.1 C466.0,373.9 467.5,374.6 469.0,375.2 C470.5,375.8 472.1,376.2 473.8,376.7 C475.4,377.1 477.1,377.4 478.7,377.7 C480.4,378.0 482.1,378.3 483.8,378.5 C485.5,378.7 487.3,378.9 489.0,379.1 C490.7,379.3 492.4,379.4 494.2,379.6 C495.9,379.8 497.7,380.0 499.4,380.2 C501.2,380.4 503.0,380.6 504.8,380.8 C506.6,381.1 508.4,381.4 510.2,381.7 C512.0,382.1 513.8,382.4 515.6,382.9 C517.4,383.4 519.2,383.9 520.8,384.5 C522.4,385.1 524.0,385.8 525.4,386.6 C526.8,387.4 528.1,388.3 529.2,389.3 C530.2,390.3 531.1,391.4 531.7,392.6 C532.3,393.8 532.7,395.2 532.8,396.6 C532.9,397.9 532.7,399.4 532.2,400.8 C531.8,402.2 531.0,403.7 530.0,404.9 C529.1,406.1 527.8,407.3 526.3,408.2 C524.8,409.1 522.1,409.8 521.0,410.1 C519.9,410.5 520.0,410.1 519.7,410.1" fill="none" stroke="#e0461a" stroke-width="2.8" stroke-linecap="butt" stroke-linejoin="round"/><path d="M514.50,410.00 L522.08,406.47 L521.92,413.86 Z" fill="#e0461a"/>
<path d="M514.5,409.8 C515.6,409.8 518.8,409.5 521.0,409.7 C523.1,409.9 525.4,410.3 527.5,410.9 C529.6,411.4 531.6,412.1 533.6,412.9 C535.5,413.8 537.4,414.7 539.1,415.8 C540.9,416.9 542.6,418.2 544.1,419.5 C545.7,420.8 547.2,422.2 548.6,423.7 C550.0,425.2 551.3,426.9 552.4,428.5 C553.6,430.2 554.7,432.0 555.6,433.8 C556.6,435.6 557.5,437.5 558.2,439.4 C558.9,441.3 559.6,443.2 560.1,445.2 C560.6,447.1 561.0,449.1 561.2,451.1 C561.5,453.1 561.6,455.2 561.6,457.1 C561.7,459.1 561.5,461.1 561.3,463.1 C561.0,465.1 560.7,467.0 560.1,468.9 C559.6,470.8 559.0,472.7 558.2,474.5 C557.4,476.3 556.5,478.0 555.4,479.7 C554.4,481.4 553.2,483.0 551.9,484.6 C550.7,486.1 549.3,487.6 547.8,489.0 C546.3,490.4 544.7,491.8 543.1,493.0 C541.4,494.2 539.7,495.4 537.9,496.4 C536.1,497.5 534.2,498.4 532.2,499.3 C530.3,500.1 528.3,500.8 526.3,501.5 C524.2,502.1 522.1,502.6 520.0,503.0 C517.9,503.3 515.8,503.6 513.6,503.7 C511.4,503.8 508.3,503.7 507.0,503.7 C505.8,503.7 506.4,503.6 506.2,503.6" fill="none" stroke="#e0461a" stroke-width="2.8" stroke-linecap="butt" stroke-linejoin="round"/><path d="M501.00,503.30 L508.72,500.07 L508.26,507.46 Z" fill="#e0461a"/>
<path d="M475.0,503.2 C474.3,503.2 471.3,503.2 470.6,503.2" fill="none" stroke="#808080" stroke-width="4" stroke-linecap="butt" stroke-linejoin="round"/><path d="M464.60,503.20 L473.10,498.20 L473.10,508.20 Z" fill="#808080"/>
<path d="M439.0,503.2 C438.1,503.2 434.6,503.2 433.8,503.2" fill="none" stroke="#808080" stroke-width="4" stroke-linecap="butt" stroke-linejoin="round"/><path d="M427.80,503.20 L436.30,498.20 L436.30,508.20 Z" fill="#808080"/>
<path d="M401.0,503.2 C400.0,503.2 397.1,503.2 395.1,503.1 C393.1,503.0 391.2,502.7 389.2,502.5 C387.3,502.3 385.3,502.0 383.3,501.8 C381.4,501.5 379.4,501.2 377.5,500.9 C375.5,500.6 373.5,500.3 371.6,500.0 C369.6,499.7 367.7,499.3 365.7,498.9 C363.7,498.5 361.8,498.1 359.8,497.7 C357.9,497.3 355.9,496.9 354.0,496.4 C352.1,495.9 350.1,495.5 348.2,495.0 C346.3,494.5 344.4,493.9 342.4,493.4 C340.5,492.9 338.6,492.3 336.7,491.7 C334.8,491.1 332.9,490.5 331.0,489.9 C329.2,489.3 326.4,488.3 325.4,488.0 C324.4,487.6 325.2,487.9 325.1,487.8" fill="none" stroke="#808080" stroke-width="4" stroke-linecap="butt" stroke-linejoin="round"/><path d="M319.90,485.80 L328.99,484.53 L325.70,492.91 Z" fill="#808080"/>
<path d="M304.2,484.7 C303.6,484.7 301.6,484.7 300.4,484.6 C299.1,484.6 298.0,484.4 296.7,484.3 C295.5,484.1 294.3,484.0 293.1,483.8 C291.9,483.6 290.7,483.4 289.5,483.1 C288.3,482.9 287.1,482.6 285.9,482.4 C284.8,482.1 283.6,481.8 282.4,481.5 C281.2,481.1 280.0,480.8 278.9,480.4 C277.7,480.0 276.5,479.7 275.4,479.3 C274.2,478.8 273.1,478.4 271.9,478.0 C270.8,477.5 269.6,477.0 268.5,476.6 C267.4,476.1 266.2,475.6 265.1,475.0 C264.0,474.5 262.9,473.9 261.8,473.4 C260.7,472.8 259.6,472.2 258.5,471.6 C257.5,471.0 256.4,470.4 255.3,469.8 C254.3,469.1 253.2,468.5 252.2,467.8 C251.1,467.1 250.1,466.4 249.1,465.7 C248.1,465.0 247.0,464.3 246.0,463.5 C245.1,462.8 244.1,462.0 243.1,461.3 C242.1,460.5 241.2,459.7 240.2,458.9 C239.3,458.1 238.3,457.3 237.4,456.5 C236.5,455.6 235.6,454.8 234.7,453.9 C233.8,453.1 232.9,452.2 232.1,451.3 C231.2,450.4 230.3,449.5 229.5,448.6 C228.7,447.7 227.9,446.7 227.0,445.8 C226.2,444.8 225.5,443.9 224.7,442.9 C223.9,441.9 223.2,441.0 222.4,440.0 C221.7,439.0 221.0,438.0 220.3,437.0 C219.6,436.0 218.9,434.9 218.2,433.9 C217.6,432.9 216.9,431.8 216.3,430.7 C215.7,429.7 215.1,428.6 214.5,427.5 C213.9,426.5 213.3,425.4 212.8,424.3 C212.2,423.2 211.7,422.1 211.2,421.0 C210.7,419.9 210.2,418.7 209.7,417.6 C209.3,416.5 208.8,415.3 208.4,414.2 C208.0,413.0 207.6,411.9 207.2,410.7 C206.9,409.6 206.5,408.4 206.2,407.2 C205.9,406.0 205.5,404.9 205.3,403.7 C205.0,402.5 204.7,401.3 204.5,400.1 C204.3,398.9 204.1,397.7 203.9,396.5 C203.7,395.3 203.5,393.4 203.4,392.8 C203.3,392.2 203.4,392.8 203.4,392.8" fill="none" stroke="#0e6e12" stroke-width="2.6" stroke-linecap="butt" stroke-linejoin="round"/><path d="M203.40,389.00 L206.44,394.48 L200.44,394.52 Z" fill="#0e6e12"/>
<path d="M320.0,484.2 C319.2,484.5 316.9,485.6 315.4,486.2 C313.9,486.9 312.5,487.4 311.0,488.0 C309.5,488.6 308.0,489.2 306.4,489.7 C304.8,490.3 303.3,490.8 301.7,491.3 C300.0,491.8 298.4,492.3 296.8,492.8 C295.1,493.3 293.5,493.8 291.8,494.2 C290.1,494.6 288.4,495.0 286.7,495.4 C285.0,495.8 283.3,496.2 281.6,496.5 C279.8,496.8 278.1,497.1 276.4,497.4 C274.7,497.6 272.9,497.9 271.2,498.1 C269.4,498.3 267.7,498.4 266.0,498.6 C264.2,498.7 262.5,498.8 260.8,498.8 C259.0,498.8 257.3,498.8 255.6,498.8 C253.9,498.8 252.2,498.7 250.5,498.5 C248.8,498.4 247.1,498.2 245.5,498.0 C243.8,497.7 242.2,497.5 240.6,497.1 C238.9,496.8 237.3,496.4 235.8,495.9 C234.2,495.5 232.6,495.0 231.1,494.4 C229.6,493.8 228.1,493.2 226.6,492.5 C225.2,491.8 223.7,491.1 222.3,490.3 C220.9,489.4 219.5,488.6 218.2,487.6 C216.9,486.7 215.6,485.6 214.3,484.6 C213.1,483.5 211.9,482.3 210.7,481.1 C209.5,479.8 208.4,478.5 207.3,477.1 C206.3,475.7 204.8,473.5 204.3,472.7 C203.7,472.0 204.3,472.7 204.3,472.7" fill="none" stroke="#e0461a" stroke-width="2.8" stroke-linecap="butt" stroke-linejoin="round"/><path d="M202.00,468.00 L208.57,473.17 L201.90,476.36 Z" fill="#e0461a"/>
<path d="M250.4,473.1 C249.9,473.1 248.3,473.2 247.2,473.2 C246.2,473.2 245.1,473.1 244.0,473.0 C242.9,472.9 241.8,472.7 240.8,472.5 C239.7,472.3 238.6,472.0 237.5,471.7 C236.4,471.4 235.4,471.0 234.3,470.6 C233.3,470.2 232.2,469.8 231.2,469.3 C230.2,468.8 229.2,468.3 228.2,467.7 C227.3,467.2 226.3,466.6 225.4,465.9 C224.5,465.3 223.6,464.6 222.8,463.9 C221.9,463.2 221.2,462.5 220.4,461.7 C219.7,460.9 219.0,460.1 218.3,459.3 C217.6,458.4 217.0,457.6 216.4,456.7 C215.8,455.8 215.3,454.9 214.7,453.9 C214.2,453.0 213.7,452.0 213.3,451.1 C212.8,450.1 212.4,449.1 211.9,448.1 C211.5,447.1 211.1,446.1 210.8,445.1 C210.4,444.0 210.0,443.0 209.6,442.0 C209.2,441.0 208.9,440.0 208.5,439.0 C208.0,438.0 207.6,437.0 207.1,436.0 C206.7,435.1 206.2,434.1 205.6,433.2 C205.0,432.4 204.4,431.5 203.8,430.7 C203.1,429.9 202.4,429.1 201.6,428.3 C200.8,427.6 200.0,426.9 199.1,426.2 C198.2,425.5 197.3,424.9 196.4,424.3 C195.5,423.7 194.5,423.1 193.5,422.6 C192.5,422.0 191.5,421.5 190.5,421.1 C189.4,420.6 188.4,420.1 187.3,419.7 C186.3,419.2 185.2,418.8 184.2,418.5 C183.1,418.1 182.0,417.7 181.0,417.4 C179.9,417.0 178.9,416.7 177.8,416.4 C176.8,416.1 175.1,415.7 174.7,415.5 C174.3,415.4 175.3,415.7 175.4,415.7" fill="none" stroke="#000" stroke-width="2.6" stroke-linecap="butt" stroke-linejoin="round"/><path d="M171.70,414.80 L177.76,413.20 L176.32,419.03 Z" fill="#000"/>
<path d="M190.7,455.3 C190.0,454.9 187.9,453.8 186.6,452.9 C185.3,452.0 184.2,451.0 183.2,450.0 C182.1,449.0 181.0,447.8 180.1,446.7 C179.1,445.5 178.2,444.2 177.4,442.9 C176.6,441.6 175.8,440.2 175.1,438.8 C174.4,437.4 173.8,435.9 173.2,434.4 C172.6,432.9 172.1,431.4 171.7,429.8 C171.2,428.2 170.9,426.6 170.6,425.0 C170.3,423.4 170.0,421.8 169.9,420.1 C169.7,418.5 169.6,416.9 169.6,415.2 C169.5,413.6 169.6,411.9 169.7,410.3 C169.8,408.7 170.0,407.0 170.2,405.4 C170.4,403.8 170.8,402.3 171.1,400.7 C171.5,399.2 172.0,397.7 172.5,396.2 C173.0,394.7 173.6,393.3 174.3,391.9 C175.0,390.5 175.7,389.2 176.5,388.0 C177.4,386.7 178.3,385.5 179.2,384.4 C180.2,383.2 181.2,382.2 182.3,381.2 C183.4,380.2 185.4,379.0 185.9,378.5 C186.4,378.1 185.5,378.7 185.5,378.7" fill="none" stroke="#e0461a" stroke-width="2.8" stroke-linecap="butt" stroke-linejoin="round"/><path d="M190.40,376.90 L184.60,382.92 L182.09,375.96 Z" fill="#e0461a"/>
</g>
</svg>
</body></html>
